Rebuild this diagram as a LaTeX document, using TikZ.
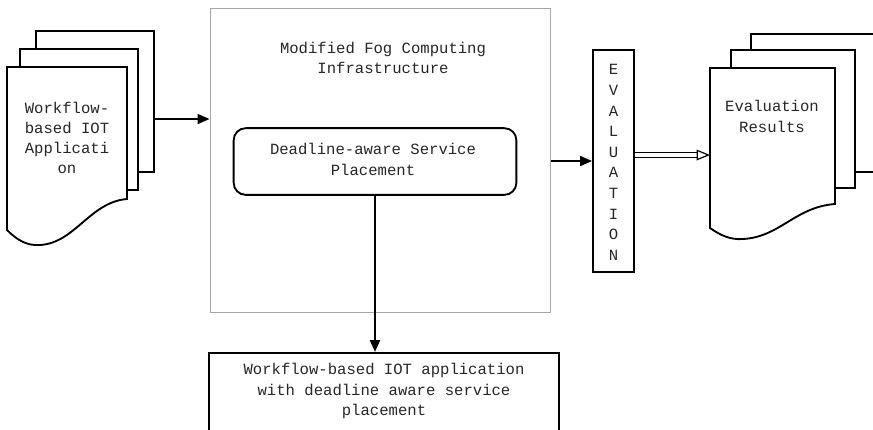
\documentclass[tikz,border=0pt]{standalone}
\usepackage{fontspec}
\setmainfont{Liberation Mono}
\usetikzlibrary{arrows.meta}

\tikzset{
  txt/.style={align=center, text=black!85, font=\fontsize{11.7}{15.2}\selectfont},
  page/.style={draw=black, fill=white, line width=1.4pt},
  arr/.style={draw=black, line width=1.4pt, -{Triangle[length=9pt,width=7.5pt]}},
  hollow/.style={draw=black, line width=0.9pt, double=white, double distance=2.4pt,
    -{Triangle[open,length=10pt,width=8pt]}},
}

\begin{document}
\begin{tikzpicture}[x=0.75pt,y=0.75pt,yscale=-1,xscale=1]
\clip (0,0) rectangle (873,429);

%Shape: Document stack (input)
\draw [page] (36,172) -- (36,31) -- (154,31) -- (154,172) -- cycle ;
\draw [page] (20,190) -- (20,49) -- (138,49) -- (138,190) -- cycle ;
\draw [page] (7,230) -- (7,67) -- (127,67) -- (127,199) .. controls (90,202) and (75,243) .. (40,245) .. controls (27,246) and (17,240) .. (7,230) -- cycle ;
\coordinate (appR) at (154,119);

%Shape: Rectangle (fog infrastructure)
\draw (380,160) node [draw=black!35, line width=0.75pt, minimum width=255pt, minimum height=228pt] (fog) {};

%Shape: Rounded Rectangle
\draw (375,161.5) node [draw=black, line width=1.4pt, rounded corners=9pt, minimum width=212pt, minimum height=50pt] (dl) {};

%Shape: Rectangle (output)
\draw (384,352) node [anchor=north, draw=black, line width=1.4pt, minimum width=262.5pt, minimum height=90pt] (outbox) {};

%Shape: Rectangle (evaluation)
\draw (613.5,161) node [draw=black, line width=1.4pt, minimum width=30.75pt, minimum height=166.5pt] (eval) {};

%Shape: Document stack (results)
\draw [page] (751,172) -- (751,34) -- (880,34) -- (880,172) -- cycle ;
\draw [page] (731,188) -- (731,50) -- (855,50) -- (855,188) -- cycle ;
\draw [page] (710,228) -- (710,68) -- (835,68) -- (835,204) .. controls (795,207) and (780,237) .. (743,239) .. controls (730,240) and (720,235) .. (710,228) -- cycle ;
\coordinate (resL) at (710,155);

% Text Node
\draw (67,138) node [txt] (app) {Workflow-\\based IOT\\Applicati\\on};
% Text Node
\draw (383,58) node [txt] (fogtitle) {Modified Fog Computing\\Infrastructure};
% Text Node
\draw (373,159.5) node [txt] (dltext) {Deadline-aware Service\\Placement};
% Text Node
\draw (384,391) node [txt] (outtext) {Workflow-based IOT application\\with deadline aware service\\placement};
% Text Node
\draw (613.5,162.5) node [txt, font=\fontsize{11.7}{15.45}\selectfont] (evaltext) {E\\V\\A\\L\\U\\A\\T\\I\\O\\N};
% Text Node
\draw (772,116.5) node [txt] (restext) {Evaluation\\Results};

% Connectors
\draw [arr] (appR) -- (appR -| fog.west) ;
\draw [arr, line width=1.7pt] (dl.south) -- (dl.south |- outbox.north) ;
\draw [arr] (fog.east |- eval.west) -- (eval.west) ;
\draw [hollow] (eval.east |- resL) -- (resL) ;
\end{tikzpicture}
\end{document}
